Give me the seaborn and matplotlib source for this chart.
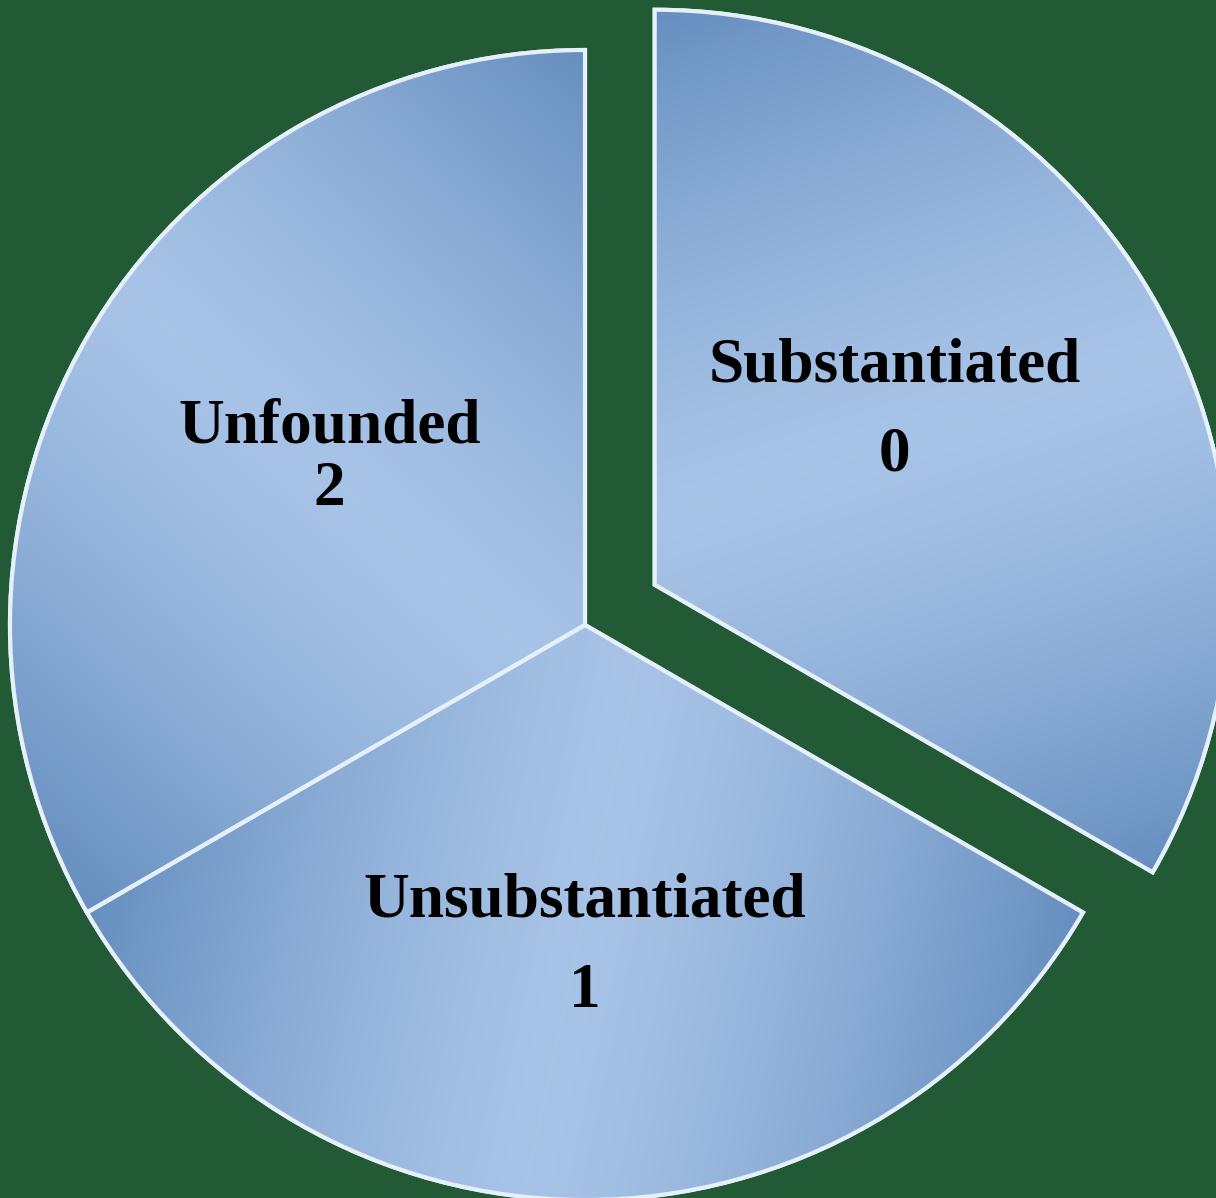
import numpy as np
import matplotlib
matplotlib.use("Agg")
import matplotlib.pyplot as plt
from matplotlib.patches import Wedge
import seaborn as sns

# ---- data ----
categories = ["Substantiated", "Unsubstantiated", "Unfounded"]
counts = [0, 1, 2]
slice_shares = [1, 1, 1]          # slices drawn with equal size in the reference
explode = [0.14, 0.0, 0.0]

# label placement styling (polar offsets from each slice centre)
label_radius = [0.515, 0.56, 0.53]
label_angle_shift = [6, 0, -3]
label_gap = [0.155, 0.157, 0.108]

sns.set_theme(style="white")
plt.rcParams["font.family"] = ["Liberation Serif", "DejaVu Serif"]

W, H = 1216, 1198
fig = plt.figure(figsize=(W / 100, H / 100), dpi=100)
bg = "#215a34"
fig.patch.set_facecolor(bg)
ax = fig.add_axes([0, 0, 1, 1])
ax.set_facecolor(bg)

wedges, _ = ax.pie(
    slice_shares, explode=explode, startangle=90,
    counterclock=False, radius=1.0,
    colors=["#93b3dc"] * 3,
    wedgeprops=dict(edgecolor="#e3eefa", linewidth=3),
)

# pixel-matched limits: pie centre at (585, 625) px, radius 575 px
s = 575.0
xl = (-585 / s, (W - 585) / s)
yl = (-(H - 625) / s, 625 / s)
ax.set_xlim(*xl)
ax.set_ylim(*yl)
ax.axis("off")

# linear gradient shading for each wedge (light band across the middle)
light = np.array([0.655, 0.765, 0.905])
dark = np.array([0.40, 0.56, 0.75])
xs = np.linspace(xl[0], xl[1], 500)
ys = np.linspace(yl[0], yl[1], 500)
X, Y = np.meshgrid(xs, ys)
for w in wedges:
    cx, cy = w.center
    mid = np.deg2rad((w.theta1 + w.theta2) / 2)
    tx, ty = -np.sin(mid), np.cos(mid)
    u = ((X - cx) * tx + (Y - cy) * ty) / 0.866
    v = ((X - cx) * np.cos(mid) + (Y - cy) * np.sin(mid))
    d = np.clip(np.abs(u + 0.25 * (v - 0.5)) / 1.0, 0, 1) ** 1.4
    img = light[None, None, :] * (1 - d[..., None]) + dark[None, None, :] * d[..., None]
    im = ax.imshow(img, extent=(xl[0], xl[1], yl[0], yl[1]), origin="lower",
                   zorder=w.get_zorder() + 0.1, interpolation="bilinear",
                   aspect="auto")
    im.set_clip_path(w)
    ax.add_patch(Wedge((cx, cy), w.r, w.theta1, w.theta2, facecolor="none",
                       edgecolor="#e6f0fb", linewidth=3,
                       zorder=w.get_zorder() + 0.2))

for w, name, n, r, da, gap in zip(wedges, categories, counts, label_radius,
                                  label_angle_shift, label_gap):
    cx, cy = w.center
    a = np.deg2rad((w.theta1 + w.theta2) / 2 + da)
    lx, ly = cx + r * np.cos(a), cy + r * np.sin(a)
    kw = dict(ha="center", va="center", fontsize=45.5, fontweight="bold",
              color="black", zorder=10)
    ax.text(lx, ly + gap / 2, name, **kw)
    ax.text(lx, ly - gap / 2, str(n), **kw)

fig.savefig("out.png", dpi=100, facecolor=bg)
